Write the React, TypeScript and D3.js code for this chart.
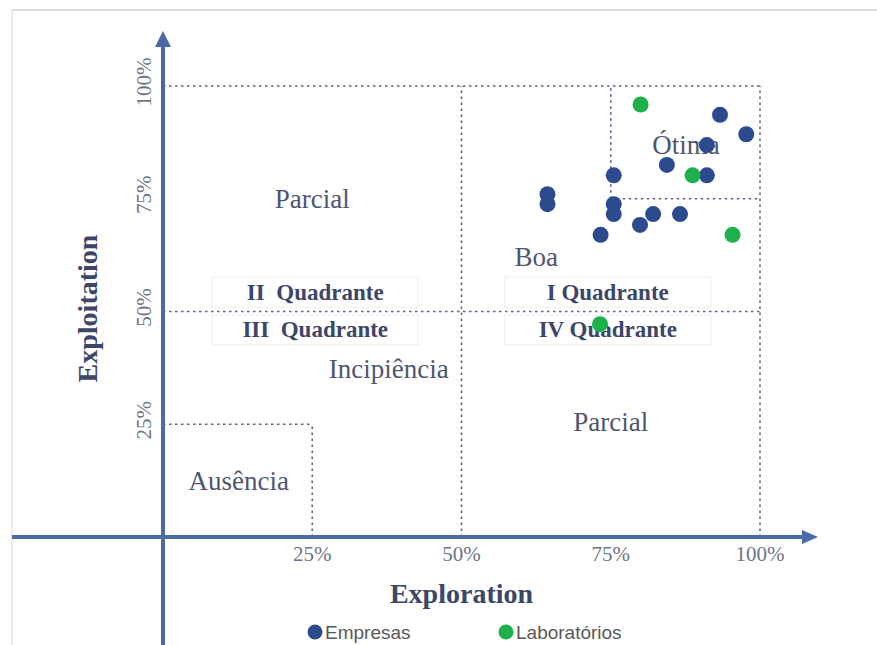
import React from "react";
import * as d3 from "d3";

// Exploration (x, %) / Exploitation (y, %) per respondent
const empresas: [number, number][] = [
  [93.3, 93.6],
  [97.7, 89.3],
  [91.1, 86.9],
  [84.4, 82.5],
  [75.5, 80.2],
  [91.1, 80.2],
  [64.4, 76.0],
  [64.4, 73.8],
  [75.5, 73.8],
  [75.5, 71.6],
  [82.1, 71.6],
  [86.6, 71.6],
  [79.9, 69.2],
  [73.3, 67.0],
];

const laboratorios: [number, number][] = [
  [80.0, 95.9],
  [88.7, 80.2],
  [95.4, 67.0],
  [73.2, 47.2],
];

const ticks = [25, 50, 75, 100];

// dotted guide lines: [x1, y1, x2, y2] in data units
const guides: [number, number, number, number][] = [
  [0, 100, 100, 100],
  [100, 0, 100, 100],
  [50, 0, 50, 100],
  [0, 50, 100, 50],
  [0, 25, 25, 25],
  [25, 0, 25, 25],
  [75, 75, 75, 100],
  [75, 75, 100, 75],
];

const regions: { label: string; x: number; y: number }[] = [
  { label: "Parcial", x: 25, y: 75 },
  { label: "Ótima", x: 87.6, y: 87 },
  { label: "Boa", x: 62.5, y: 62 },
  { label: "Incipiência", x: 37.8, y: 37.3 },
  { label: "Parcial", x: 75, y: 25.5 },
  { label: "Ausência", x: 12.7, y: 12.4 },
];

const quadrants: { label: string; x: number; y: number }[] = [
  { label: "II  Quadrante", x: 25.5, y: 54.3 },
  { label: "I Quadrante", x: 74.5, y: 54.3 },
  { label: "III  Quadrante", x: 25.5, y: 45.9 },
  { label: "IV Quadrante", x: 74.5, y: 45.9 },
];

const series = [
  { name: "Empresas", color: "#2C4A8E", data: empresas },
  { name: "Laboratórios", color: "#1DB04B", data: laboratorios },
];

const W = 877;
const H = 645;
const AXIS = "#4A6BA6";
const GUIDE = "#5A6888";
const SERIF = "'Liberation Serif', 'Times New Roman', serif";

export default function App() {
  const x = d3.scaleLinear().domain([0, 100]).range([163, 760]);
  const y = d3.scaleLinear().domain([0, 100]).range([537, 86]);
  const x0 = x(0);
  const y0 = y(0);

  return (
    <svg
      width={W}
      height={H}
      style={{ position: "absolute", left: 0, top: 0, background: "#fff" }}
    >
      {/* faint frame */}
      <line x1={12} y1={10} x2={W} y2={10} stroke="#dcdcdc" strokeWidth={2} />
      <line x1={12} y1={10} x2={12} y2={H} stroke="#e4e4e4" strokeWidth={1.5} />

      {/* dotted guides */}
      {guides.map(([a, b, c, d], i) => (
        <line
          key={i}
          x1={x(a)}
          y1={y(b)}
          x2={x(c)}
          y2={y(d)}
          stroke={GUIDE}
          strokeWidth={1.6}
          strokeDasharray="2.5 3.5"
        />
      ))}

      {/* quadrant label boxes */}
      {quadrants.map((q, i) => (
        <g key={i}>
          <rect
            x={x(q.x) - 103}
            y={y(q.y) - 15}
            width={206}
            height={30}
            fill="#fff"
            fillOpacity={0.6}
            stroke="#ececec"
            strokeWidth={1}
          />
          <text
            x={x(q.x)}
            y={y(q.y)}
            textAnchor="middle"
            dominantBaseline="central"
            fontFamily={SERIF}
            fontWeight="bold"
            fontSize={23}
            fill="#3C4668"
            style={{ whiteSpace: "pre" }}
          >
            {q.label}
          </text>
        </g>
      ))}

      {/* region labels */}
      {regions.map((r, i) => (
        <text
          key={i}
          x={x(r.x)}
          y={y(r.y)}
          textAnchor="middle"
          dominantBaseline="central"
          fontFamily={SERIF}
          fontSize={27}
          fill="#4E5670"
        >
          {r.label}
        </text>
      ))}

      {/* axes */}
      <line x1={12} y1={y0} x2={806} y2={y0} stroke={AXIS} strokeWidth={4} />
      <path
        d={`M818,${y0} L802,${y0 - 7} L802,${y0 + 7} Z`}
        fill={AXIS}
      />
      <line x1={x0} y1={H} x2={x0} y2={44} stroke={AXIS} strokeWidth={4} />
      <path d={`M${x0},31 L${x0 - 8},47 L${x0 + 8},47 Z`} fill={AXIS} />

      {/* ticks */}
      {ticks.map((t) => (
        <text
          key={"x" + t}
          x={x(t)}
          y={y0 + 24}
          textAnchor="middle"
          fontFamily={SERIF}
          fontSize={21}
          fill="#6E7486"
        >
          {t}%
        </text>
      ))}
      {ticks.map((t) => (
        <text
          key={"y" + t}
          transform={`translate(${x0 - 12},${y(t) - 4}) rotate(-90)`}
          textAnchor="middle"
          fontFamily={SERIF}
          fontSize={21}
          fill="#6E7486"
        >
          {t}%
        </text>
      ))}

      {/* axis titles */}
      <text
        x={x(50)}
        y={603}
        textAnchor="middle"
        fontFamily={SERIF}
        fontWeight="bold"
        fontSize={28}
        fill="#3C4668"
      >
        Exploration
      </text>
      <text
        transform={`translate(97,${y(50) - 3}) rotate(-90)`}
        textAnchor="middle"
        fontFamily={SERIF}
        fontWeight="bold"
        fontSize={28}
        fill="#3C4668"
      >
        Exploitation
      </text>

      {/* points */}
      {series.map((s) =>
        s.data.map(([a, b], i) => (
          <circle
            key={s.name + i}
            cx={x(a)}
            cy={y(b)}
            r={8}
            fill={s.color}
          />
        ))
      )}

      {/* legend */}
      {series.map((s, i) => (
        <g key={s.name} transform={`translate(${315 + i * 191},632)`}>
          <circle r={7.5} fill={s.color} />
          <text
            x={10}
            y={7}
            fontFamily="'Liberation Sans', Arial, sans-serif"
            fontSize={19}
            fill="#595959"
          >
            {s.name}
          </text>
        </g>
      ))}
    </svg>
  );
}
